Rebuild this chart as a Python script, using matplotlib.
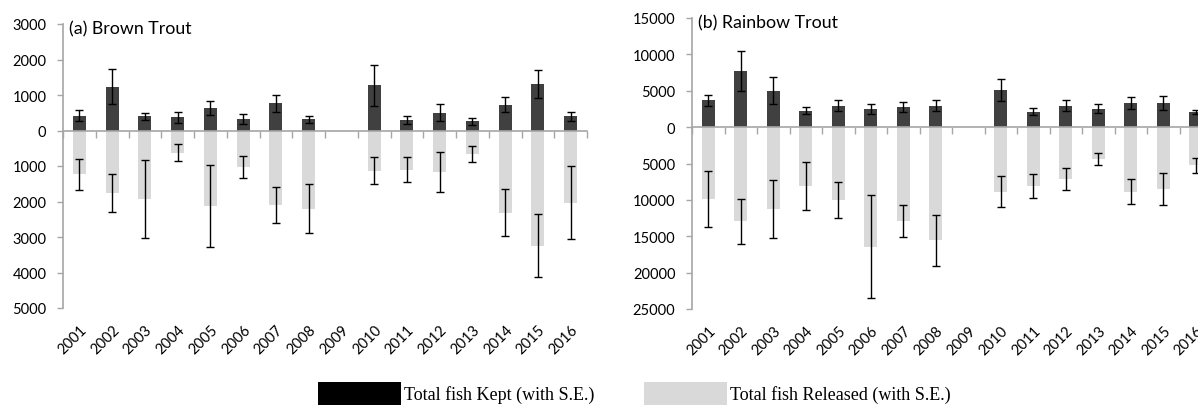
import numpy as np
import matplotlib
matplotlib.use('Agg')
import matplotlib.pyplot as plt
from matplotlib.patches import Patch
from matplotlib.ticker import FuncFormatter

years = [str(y) for y in range(2001, 2017)]
nan = np.nan

# (a) Brown Trout
brown_kept = [420, 1236, 396, 368, 623, 320, 764, 320, nan, 1274, 292, 500, 255, 726, 1302, 396]
brown_kept_se = [150, 490, 100, 160, 200, 150, 240, 100, nan, 570, 120, 245, 100, 210, 400, 120]
brown_rel = [1230, 1760, 1930, 620, 2120, 1030, 2100, 2200, nan, 1140, 1100, 1175, 663, 2320, 3240, 2040]
brown_rel_se = [440, 540, 1100, 240, 1160, 300, 506, 690, nan, 380, 360, 560, 237, 660, 880, 1030]

# (b) Rainbow Trout
rainbow_kept = [3700, 7760, 4980, 2280, 2970, 2510, 2790, 2970, nan, 5110, 2100, 2970, 2510, 3330, 3330, 2100]
rainbow_kept_se = [780, 2740, 1870, 450, 690, 640, 690, 690, nan, 1500, 500, 690, 600, 820, 1000, 320]
rainbow_rel = [9900, 12930, 11200, 8140, 10000, 16450, 12930, 15560, nan, 8850, 8100, 7080, 4420, 8850, 8450, 5250]
rainbow_rel_se = [3880, 3100, 3990, 3290, 2500, 7075, 2240, 3490, nan, 2100, 1700, 1500, 800, 1730, 2190, 1030]

KEPT = '#404040'
REL = '#d9d9d9'
AXC = '#a6a6a6'
sans = 'Lato'

fig = plt.figure(figsize=(11.98, 4.06), dpi=100)
W, H = 1198., 406.


def panel(rect, kept, kept_se, rel, rel_se, ylo, yhi, step, title):
    ax = fig.add_axes(rect)
    x = np.arange(len(years))
    rel_neg = -np.array(rel, dtype=float)
    ek = dict(ecolor='black', elinewidth=1.0, capsize=2.6, capthick=1.0)
    ax.bar(x, kept, width=0.4, color=KEPT, yerr=kept_se, error_kw=ek, zorder=2)
    ax.bar(x, rel_neg, width=0.4, color=REL, yerr=rel_se, error_kw=ek, zorder=2)
    ax.set_xlim(-0.5, len(years) - 0.5)
    ax.set_ylim(ylo, yhi)
    ax.set_yticks(np.arange(ylo, yhi + 1, step))
    ax.yaxis.set_major_formatter(FuncFormatter(lambda v, p: '%d' % abs(v)))
    for s in ['top', 'right']:
        ax.spines[s].set_visible(False)
    ax.spines['left'].set_color(AXC)
    ax.spines['left'].set_linewidth(1.2)
    ax.spines['bottom'].set_position(('data', 0))
    ax.spines['bottom'].set_color(AXC)
    ax.spines['bottom'].set_linewidth(1.2)
    ax.spines['bottom'].set_zorder(3)
    ax.tick_params(axis='y', direction='out', length=4, width=1, color=AXC,
                   labelsize=10.5, pad=8)
    ax.set_xticks(np.arange(-0.5, len(years), 1.0))
    ax.tick_params(axis='x', direction='out', length=5, width=1, color=AXC,
                   labelbottom=False)
    for lab in ax.get_yticklabels():
        lab.set_family(sans)
    sec = ax.secondary_xaxis('bottom')
    sec.set_xticks(x)
    sec.set_xticklabels(years, rotation=45, ha='right', va='top',
                        rotation_mode='anchor', family=sans, fontsize=10.5)
    sec.tick_params(length=0, pad=10)
    sec.spines['bottom'].set_visible(False)
    ax.text(0.012, 0.985, title, transform=ax.transAxes, ha='left', va='center',
            family=sans, fontsize=12.8)
    return ax


panel([63 / W, 1 - 309 / H, 524 / W, 284 / H], brown_kept, brown_kept_se,
      brown_rel, brown_rel_se, -5000, 3000, 1000, '(a) Brown Trout')
panel([692 / W, 1 - 310 / H, 520 / W, 291 / H], rainbow_kept, rainbow_kept_se,
      rainbow_rel, rainbow_rel_se, -25000, 15000, 5000, '(b) Rainbow Trout')

handles = [Patch(facecolor='black', edgecolor='none', label='Total fish Kept (with S.E.)'),
           Patch(facecolor=REL, edgecolor='none', label='Total fish Released (with S.E.)')]
fig.legend(handles=handles, loc='lower left', bbox_to_anchor=(318 / W, 0.0),
           ncol=2, frameon=False, borderpad=0, borderaxespad=0,
           handlelength=4.6, handleheight=1.6, handletextpad=0.17,
           columnspacing=2.75, prop={'family': 'Liberation Serif', 'size': 13})

plt.savefig('out.png', dpi=100)
